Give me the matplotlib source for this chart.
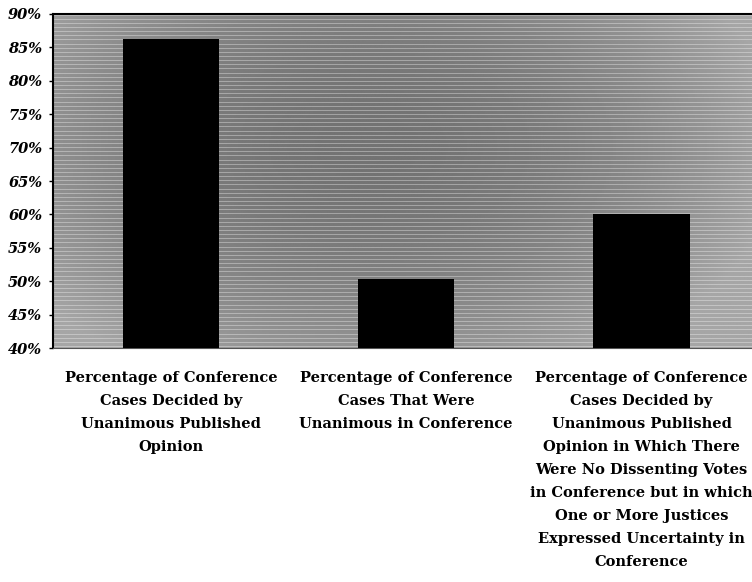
import matplotlib.pyplot as plt
import numpy as np

categories = [
    "Percentage of Conference\nCases Decided by\nUnanimous Published\nOpinion",
    "Percentage of Conference\nCases That Were\nUnanimous in Conference",
    "Percentage of Conference\nCases Decided by\nUnanimous Published\nOpinion in Which There\nWere No Dissenting Votes\nin Conference but in which\nOne or More Justices\nExpressed Uncertainty in\nConference",
]
values = [86.2, 50.3, 60.1]
yticks = [40, 45, 50, 55, 60, 65, 70, 75, 80, 85, 90]

plt.rcParams['font.family'] = ['DejaVu Serif']

fig = plt.figure(figsize=(7.52, 5.82), dpi=100)
ax = fig.add_axes([0.071, 0.402, 0.929, 0.574])

# scanned-looking grey background: darker in the middle, a bit lighter at the edges
gx, gy = np.meshgrid(np.linspace(0, 1, 300), np.linspace(0, 1, 200))
r = np.sqrt(((gx - 0.45) / 0.6) ** 2 + ((gy - 0.6) / 0.75) ** 2)
shade = 0.45 + 0.2 * np.clip(r, 0, 1) ** 2
ax.imshow(shade, cmap='gray', vmin=0, vmax=1, origin='lower', aspect='auto',
          extent=(0, 1, 0, 1), transform=ax.transAxes, zorder=0)
for y in np.arange(40.3, 90, 0.62):
    ax.axhline(y, color='white', lw=0.6, alpha=0.4, zorder=1)

x = np.arange(len(values))
ax.bar(x, values, width=0.41, color='black', zorder=3, bottom=0)

ax.set_ylim(40, 90)
ax.set_xlim(-0.5, 2.47)
ax.set_yticks(yticks)
ax.set_yticklabels([f"{v}%" for v in yticks], fontsize=10.5, fontweight='bold', style='italic')
ax.set_xticks([])
ax.tick_params(axis='y', length=3, width=1, pad=5)

ax.spines['right'].set_visible(False)
ax.spines['left'].set_linewidth(1.5)
ax.spines['top'].set_linewidth(1.5)
ax.spines['bottom'].set_linewidth(0.8)
ax.spines['bottom'].set_color('#555555')

for i, lab in enumerate(categories):
    ax.text(i, -0.068, lab, transform=ax.get_xaxis_transform(), ha='center', va='top',
            fontsize=10.5, fontweight='bold', linespacing=1.82)

fig.savefig('out.png', dpi=100)
